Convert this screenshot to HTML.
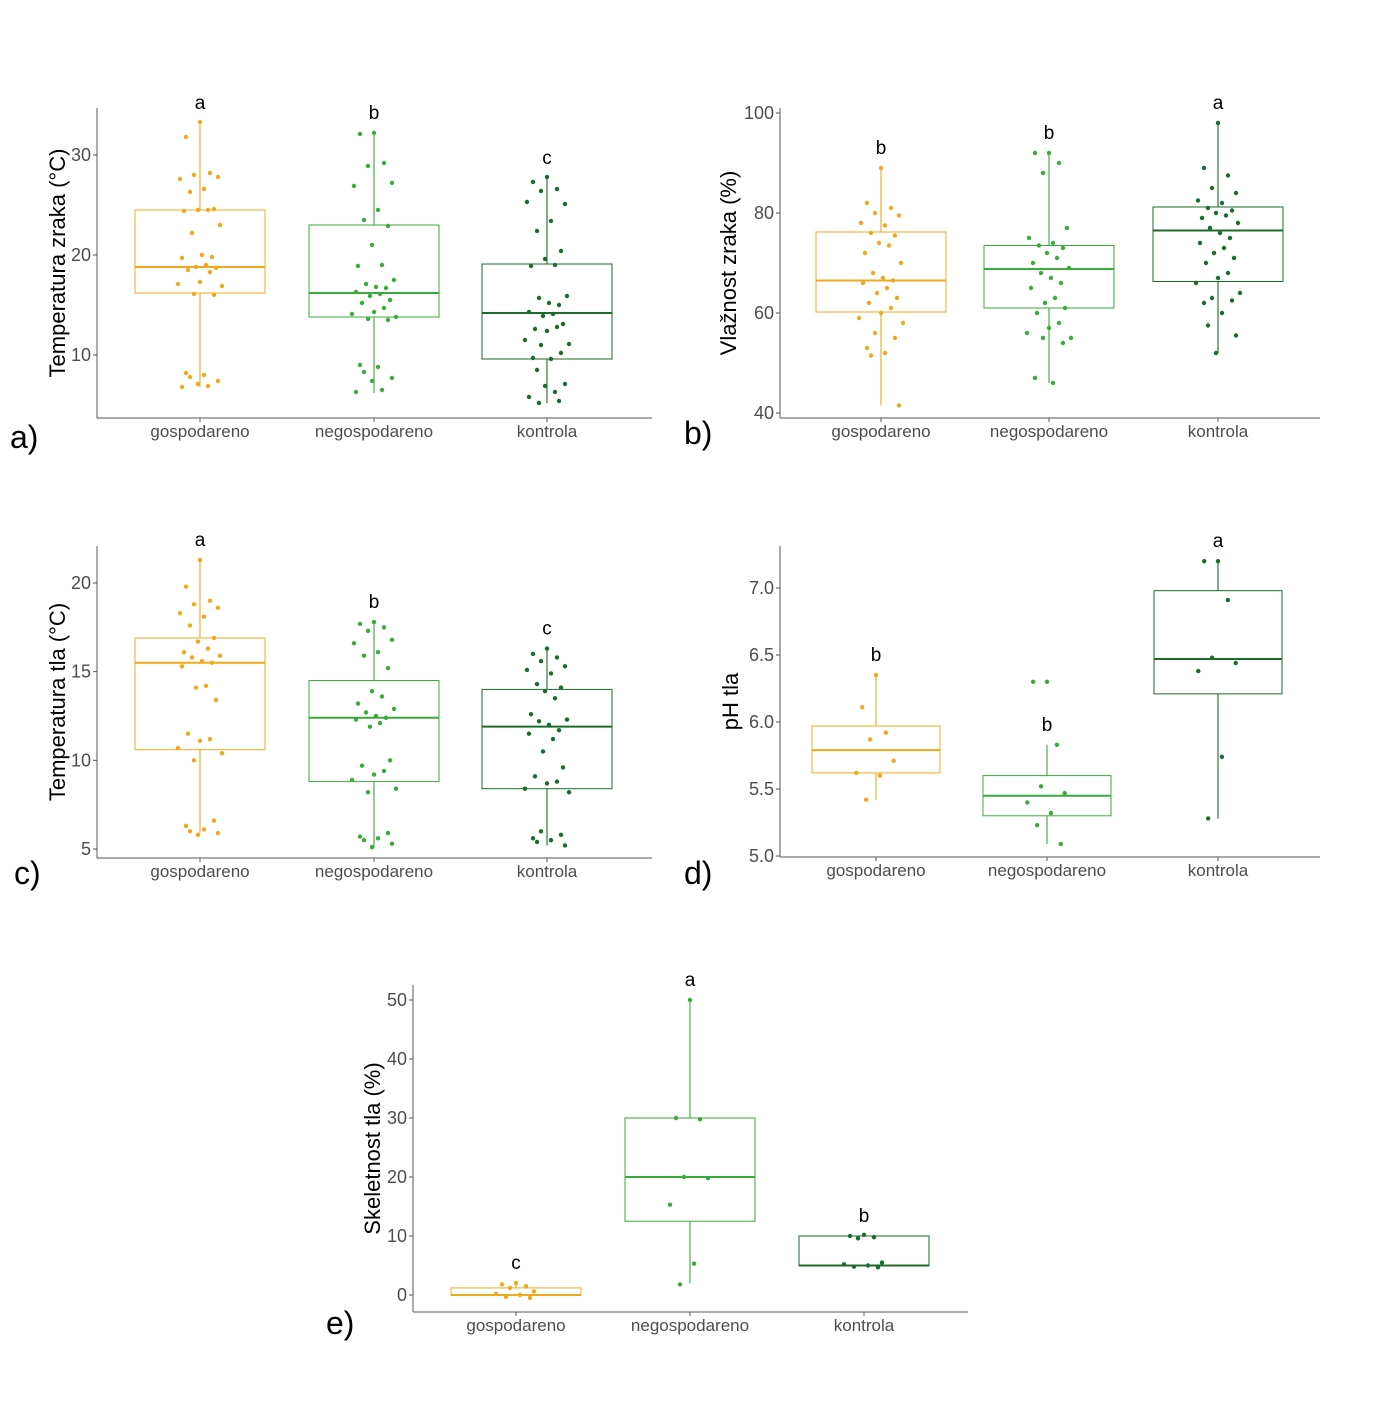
<!DOCTYPE html>
<html><head><meta charset="utf-8"><style>
body{margin:0;background:#fff;width:1378px;height:1402px;overflow:hidden;font-family:"Liberation Sans",sans-serif}
svg text{font-family:"Liberation Sans",sans-serif}
</style></head><body>
<svg id="s" width="1378" height="1402"></svg>
<script>
const categories=["gospodareno","negospodareno","kontrola"];
const colors=["#f0a81c","#3aaa3a","#1b6b2e"];
// panel a: Temperatura zraka
const aStats=[[6.8,16.2,18.8,24.5,33.2],[6.2,13.8,16.2,23.0,32.2],[5.2,9.6,14.2,19.1,27.7]];
const aPts=[[33.3,31.8,28.2,28.0,27.8,27.6,26.6,26.3,24.6,24.5,24.5,24.4,23.0,22.2,20.0,19.8,19.7,19.0,18.8,18.7,18.5,18.3,17.3,17.1,16.9,16.1,16.0,8.2,8.0,7.8,7.4,7.1,6.9,6.8],
[32.2,32.1,29.2,28.9,27.2,26.9,24.5,23.5,22.9,21.0,19.0,18.9,17.5,17.1,16.8,16.7,16.3,16.1,15.9,15.5,15.2,14.7,14.3,14.1,13.8,13.6,13.5,9.0,8.8,8.3,7.7,7.4,6.5,6.3],
[27.8,27.3,26.6,26.4,25.1,25.3,23.4,22.4,20.4,19.6,19.0,18.9,15.9,15.7,15.2,15.0,14.3,14.1,13.9,13.1,12.6,12.8,12.4,11.5,11.1,11.0,10.2,9.7,9.6,8.5,7.1,6.9,6.3,5.8,5.4,5.2]];
// panel b: Vlaznost zraka
const bStats=[[41.5,60.2,66.5,76.2,89],[46,61,68.8,73.5,92],[52,66.3,76.5,81.2,98]];
const bPts=[[89,82,81,80,79.5,78,77.5,76,75.5,74,73.5,72,70,68,67,66.5,66,65,64,63,62,61,60,59,58,56,55,53,52,51.5,41.5],
[92,92,90,88,77,75,74,73.5,73,72,71,70,69,68,67,66,65,63,62,61,60,58,57,56,55,55,54,47,46],
[98,89,87.5,85,84,82.5,82,81,80.5,80,79.5,79,78,77,76,75,74,73,72,71,70,68,67,66,64,63,62.5,62,60,57.5,55.5,52]];
// panel c: Temperatura tla
const cStats=[[5.9,10.6,15.5,16.9,21.3],[5.1,8.8,12.4,14.5,17.8],[5.2,8.4,11.9,14.0,16.3]];
const cPts=[[21.3,19.8,19.0,18.8,18.6,18.3,18.1,17.6,16.9,16.7,16.3,16.1,15.9,15.8,15.6,15.5,15.3,14.2,14.1,13.4,11.5,11.2,11.1,10.7,10.4,10.0,6.6,6.3,6.1,6.0,5.9,5.8],
[17.8,17.7,17.5,17.3,16.8,16.6,16.1,15.9,15.2,13.9,13.6,13.2,12.9,12.7,12.5,12.4,12.3,12.1,11.9,10.0,9.7,9.4,9.2,8.9,8.4,8.2,5.9,5.7,5.6,5.5,5.3,5.1],
[16.3,16.0,15.8,15.6,15.3,15.1,14.9,14.3,14.1,13.9,13.5,12.6,12.3,12.2,12.0,11.7,11.5,11.2,10.5,9.6,9.1,8.8,8.7,8.4,8.2,6.0,5.8,5.6,5.5,5.4,5.2]];
// panel d: pH tla
const dStats=[[5.42,5.62,5.79,5.97,6.35],[5.09,5.30,5.45,5.60,5.83],[5.28,6.21,6.47,6.98,7.20]];
const dPts=[[6.35,6.11,5.92,5.87,5.71,5.62,5.60,5.42],[6.30,6.30,5.83,5.52,5.47,5.40,5.32,5.23,5.09],[7.20,7.20,6.91,6.48,6.44,6.38,5.74,5.28]];
// panel e: Skeletnost tla
const eStats=[[0,0,0,1.2,2],[2,12.5,20,30,50],[5,5,5,10,10]];
const ePts=[[2.0,1.8,1.5,1.2,0.6,0.2,0,-0.3,-0.5],[50,30,29.8,20,19.8,15.3,5.3,1.8],[10.2,10,9.8,9.6,5.5,5.2,5.0,4.8,4.7]];
const jit=[0,-14,10,-6,18,-20,4,-10,14,-2,8,-16,20,-8,2,12,-18,6,-4,16,-12,10,0,-22,22,-6,14,-14,4,-10,18,-2,8,-18,12,-8];

const S=document.getElementById('s');
const NS="http://www.w3.org/2000/svg";
function el(t,a,p){const e=document.createElementNS(NS,t);for(const k in a)e.setAttribute(k,a[k]);(p||S).appendChild(e);return e;}

function panel(cfg){
  const g=el('g',{});
  
  
  const y=v=>cfg.y0+(v-cfg.v0)*(cfg.y1-cfg.y0)/(cfg.v1-cfg.v0);
  const xc=i=>cfg.xc[i];
  const ax=el('line',{x1:cfg.left,y1:cfg.top,x2:cfg.left,y2:cfg.bottom,stroke:'#555','stroke-width':1},g);
  
  const bx=el('line',{x1:cfg.left,y1:cfg.bottom,x2:cfg.right,y2:cfg.bottom,stroke:'#555','stroke-width':1},g);
  
  cfg.ticks.forEach((t,i)=>{
    el('line',{x1:cfg.left-4,x2:cfg.left,y1:y(t),y2:y(t),stroke:'#555'},g);
    const tx=el('text',{x:cfg.left-6,y:y(t)+6,'text-anchor':'end','font-size':18,fill:'#4d4d4d'},g);
    tx.textContent=cfg.tickLabels[i];
    
  });
  categories.forEach((c,i)=>{
    el('line',{x1:xc(i),x2:xc(i),y1:cfg.bottom,y2:cfg.bottom+4,stroke:'#555'},g);
    const tx=el('text',{x:xc(i),y:cfg.bottom+19,'text-anchor':'middle','font-size':17,fill:'#4d4d4d'},g);
    tx.textContent=c;
    
    const st=cfg.stats[i],col=colors[i],w=cfg.bw/2;
    const wl=el('line',{x1:xc(i),x2:xc(i),y1:y(st[0]),y2:y(st[4]),stroke:col,'stroke-width':1.1},g);
    
    const r=el('rect',{x:xc(i)-w,y:y(st[3]),width:cfg.bw,height:Math.max(1,y(st[1])-y(st[3])),fill:'#fff',stroke:col,'stroke-width':1},g);
    
    const m=el('line',{x1:xc(i)-w,x2:xc(i)+w,y1:y(st[2]),y2:y(st[2]),stroke:col,'stroke-width':2},g);
    
    cfg.pts[i].forEach((v,k)=>{
      const p=el('circle',{cx:xc(i)+jit[k%jit.length]*cfg.bw/130,cy:y(v),r:2.2,fill:col},g);
      
    });
    const L=el('text',{x:xc(i),y:y(st[4])-14,'text-anchor':'middle','font-size':19,fill:'#000'},g);
    L.textContent=cfg.letters[i];
    
  });
  const cy=(cfg.top+cfg.bottom)/2;
  const at=el('text',{x:0,y:0,'text-anchor':'middle','font-size':22,fill:'#000',transform:`translate(${cfg.left-cfg.toff},${cy}) rotate(-90)`},g);
  at.textContent=cfg.title;
  
  const pl=el('text',{x:cfg.plx,y:cfg.ply,'font-size':32,fill:'#000'},g);
  pl.textContent=cfg.panelLabel;
  
}
panel({name:'panel-a',left:97,right:652,top:108,bottom:418,v0:30,y0:155,v1:10,y1:355,xc:[200,374,547],bw:130,toff:32,
  ticks:[10,20,30],tickLabels:['10','20','30'],stats:aStats,pts:aPts,letters:['a','b','c'],title:'Temperatura zraka (°C)',panelLabel:'a)',plx:10,ply:448});
panel({name:'panel-b',left:780,right:1320,top:108,bottom:418,v0:100,y0:113,v1:40,y1:413,xc:[881,1049,1218],bw:130,toff:44,
  ticks:[40,60,80,100],tickLabels:['40','60','80','100'],stats:bStats,pts:bPts,letters:['b','b','a'],title:'Vlažnost zraka (%)',panelLabel:'b)',plx:684,ply:444});
panel({name:'panel-c',left:97,right:652,top:546,bottom:858,v0:20,y0:583,v1:5,y1:849,xc:[200,374,547],bw:130,toff:32,
  ticks:[5,10,15,20],tickLabels:['5','10','15','20'],stats:cStats,pts:cPts,letters:['a','b','c'],title:'Temperatura tla (°C)',panelLabel:'c)',plx:14,ply:884});
panel({name:'panel-d',left:780,right:1320,top:546,bottom:857,v0:7,y0:588,v1:5,y1:856,xc:[876,1047,1218],bw:128,toff:42,
  ticks:[5,5.5,6,6.5,7],tickLabels:['5.0','5.5','6.0','6.5','7.0'],stats:dStats,pts:dPts,letters:['b','b','a'],title:'pH tla',panelLabel:'d)',plx:684,ply:884});
panel({name:'panel-e',left:413,right:968,top:985,bottom:1312,v0:50,y0:1000,v1:0,y1:1295,xc:[516,690,864],bw:130,toff:33,
  ticks:[0,10,20,30,40,50],tickLabels:['0','10','20','30','40','50'],stats:eStats,pts:ePts,letters:['c','a','b'],title:'Skeletnost tla (%)',panelLabel:'e)',plx:326,ply:1334});
</script></body></html>
